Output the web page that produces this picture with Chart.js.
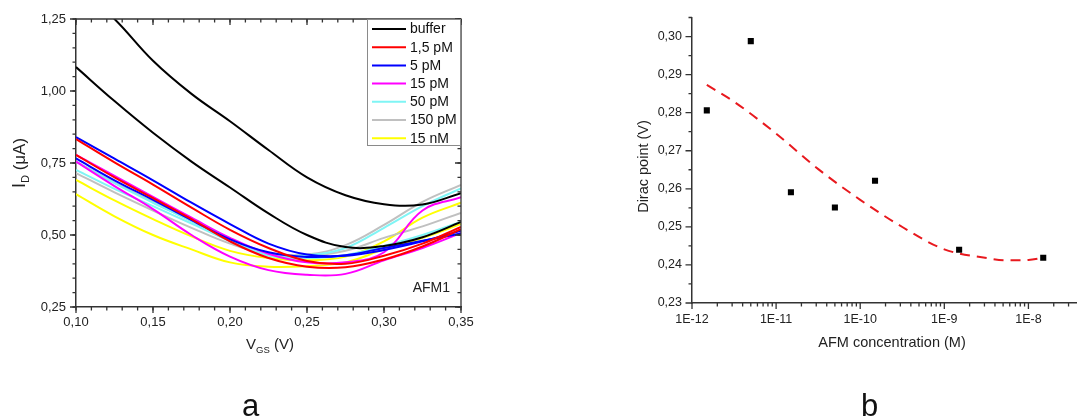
<!DOCTYPE html>
<html>
<head>
<meta charset="utf-8">
<script src="https://cdn.jsdelivr.net/npm/chart.js@4.4.1/dist/chart.umd.min.js"></script>
<style>
  html, body { margin: 0; padding: 0; background: #fff; overflow: hidden; }
  #wrap { position: relative; width: 1081px; height: 418px; }
  #chartA { position: absolute; left: 0; top: 0; }
  #chartB { position: absolute; left: 600px; top: 0; }
  .caption {
    position: absolute; top: 390px;
    font-family: "Liberation Sans Narrow", "Liberation Sans", Arial, sans-serif;
    font-size: 31px; line-height: 31px; color: #111;
  }
</style>
</head>
<body>
<div id="wrap">
  <canvas id="chartA" width="540" height="418"></canvas>
  <canvas id="chartB" width="481" height="418"></canvas>
  <div class="caption" style="left:242px">a</div>
  <div class="caption" style="left:861px">b</div>
</div>
<script>
// ============================
// DATA - panel a (transfer curves)
// ============================
const vgs = [0.10, 0.125, 0.15, 0.175, 0.20, 0.225, 0.25, 0.275, 0.30, 0.325, 0.35];

const buffer1 = [1.37, 1.25, 1.105, 0.99, 0.895, 0.795, 0.700, 0.638, 0.607, 0.606, 0.645];
const buffer2 = [1.083, 0.965, 0.855, 0.755, 0.665, 0.575, 0.500, 0.458, 0.462, 0.492, 0.545];
const pm1_5a = [0.833, 0.752, 0.675, 0.595, 0.518, 0.455, 0.410, 0.400, 0.428, 0.470, 0.528];
const pm1_5b = [0.778, 0.700, 0.628, 0.555, 0.478, 0.420, 0.390, 0.388, 0.415, 0.460, 0.520];
const pm5a = [0.840, 0.765, 0.690, 0.612, 0.538, 0.470, 0.432, 0.428, 0.448, 0.478, 0.515];
const pm5b = [0.766, 0.690, 0.622, 0.552, 0.485, 0.440, 0.424, 0.430, 0.455, 0.480, 0.505];
const pm15a = [0.778, 0.705, 0.632, 0.560, 0.490, 0.435, 0.405, 0.405, 0.440, 0.585, 0.631];
const pm15b = [0.755, 0.670, 0.590, 0.500, 0.425, 0.378, 0.362, 0.365, 0.412, 0.455, 0.507];
const pm50a = [0.726, 0.660, 0.600, 0.540, 0.480, 0.435, 0.430, 0.455, 0.525, 0.600, 0.662];
const pm50b = [0.755, 0.680, 0.612, 0.548, 0.478, 0.428, 0.420, 0.430, 0.462, 0.500, 0.546];
const pm150a = [0.755, 0.682, 0.615, 0.548, 0.482, 0.438, 0.432, 0.465, 0.535, 0.615, 0.674];
const pm150b = [0.715, 0.648, 0.585, 0.525, 0.470, 0.433, 0.428, 0.445, 0.490, 0.530, 0.577];
const nm15a = [0.691, 0.620, 0.555, 0.495, 0.445, 0.420, 0.412, 0.425, 0.478, 0.560, 0.612];
const nm15b = [0.642, 0.565, 0.500, 0.450, 0.405, 0.390, 0.392, 0.405, 0.450, 0.490, 0.538];

const legendLabels = ['buffer', '1,5 pM', '5 pM', '15 pM', '50 pM', '150 pM', '15 nM'];
const legendColors = ['#000000', '#ff0000', '#0000ff', '#ff00ff', '#7ff5f5', '#c0c0c0', '#ffff00'];
const seriesPairs = [
    [buffer1, buffer2], [pm1_5a, pm1_5b], [pm5a, pm5b], [pm15a, pm15b],
    [pm50a, pm50b], [pm150a, pm150b], [nm15a, nm15b]
];

const xTicksA = [0.10, 0.15, 0.20, 0.25, 0.30, 0.35];
const yTicksA = [0.25, 0.50, 0.75, 1.00, 1.25];

// ============================
// DATA - panel b (Dirac point)
// ============================
const concentrations = [1.5e-12, 5e-12, 1.5e-11, 5e-11, 1.5e-10, 1.5e-9, 1.5e-8];
const diracPoints = [0.2806, 0.2988, 0.2591, 0.2551, 0.2621, 0.2440, 0.2419];

const fitConc = [1.5e-12, 3.2e-12, 1e-11, 3.2e-11, 1e-10, 3.2e-10, 1e-9, 3.2e-9, 5.6e-9, 1e-8, 1.5e-8];
const fitVals = [0.2873, 0.2828, 0.2745, 0.2651, 0.2571, 0.2499, 0.2441, 0.2418, 0.2412, 0.2413, 0.2419];

const xTicksB = [1e-12, 1e-11, 1e-10, 1e-9, 1e-8];
const xTickLabelsB = ['1E-12', '1E-11', '1E-10', '1E-9', '1E-8'];
const yTicksB = [0.23, 0.24, 0.25, 0.26, 0.27, 0.28, 0.29, 0.30];


// ============================
// HELPERS
// ============================
const FONT = '"Liberation Sans", Arial, sans-serif';
const AXIS = '#333';

const comma = (v) => v.toFixed(2).replace('.', ',');

// dir: +1 / -1 along the perpendicular of the axis line
function tickMarks(ctx, scale, values, pos, len, dir) {
    ctx.beginPath();
    values.forEach((v) => {
        const p = scale.getPixelForValue(v);
        if (scale.isHorizontal()) {
            ctx.moveTo(p, pos);
            ctx.lineTo(p, pos + dir * len);
        } else {
            ctx.moveTo(pos, p);
            ctx.lineTo(pos + dir * len, p);
        }
    });
    ctx.stroke();
}

function steps(from, to, step) {
    const out = [];
    for (let v = from; v <= to + step / 10; v += step) out.push(+v.toFixed(4));
    return out;
}


// ============================
// PANEL A
// ============================
const datasetsA = [];
seriesPairs.forEach((pair, i) => {
    pair.forEach((arr, k) => {
        datasetsA.push({
            label: k === 0 ? legendLabels[i] : '',
            data: vgs.map((v, j) => ({ x: v, y: arr[j] })),
            borderColor: legendColors[i],
            borderWidth: 2,
            pointRadius: 0,
            fill: false,
            tension: 0.4
        });
    });
});

const panelADecor = {
    id: 'panelADecor',
    afterDatasetsDraw(chart) {
        const { ctx, chartArea: a, scales: { x, y } } = chart;
        ctx.save();
        ctx.strokeStyle = AXIS;
        ctx.lineWidth = 1.3;
        // frame top / right
        ctx.beginPath();
        ctx.moveTo(a.left, a.top);
        ctx.lineTo(a.right, a.top);
        ctx.lineTo(a.right, a.bottom);
        ctx.stroke();

        const xMinor = steps(0.10, 0.35, 0.01);
        const yMinor = steps(0.25, 1.25, 0.05);
        // bottom (outward) and top (inward)
        tickMarks(ctx, x, xTicksA, a.bottom, 6, 1);
        tickMarks(ctx, x, xMinor, a.bottom, 3.5, 1);
        tickMarks(ctx, x, xTicksA, a.top, 6, 1);
        tickMarks(ctx, x, xMinor, a.top, 3.5, 1);
        // left (outward) and right (inward)
        tickMarks(ctx, y, yTicksA, a.left, 6, -1);
        tickMarks(ctx, y, yMinor, a.left, 3.5, -1);
        tickMarks(ctx, y, yTicksA, a.right, 6, -1);
        tickMarks(ctx, y, yMinor, a.right, 3.5, -1);

        // legend
        const lx = 367, ly = a.top, lw = a.right - 367, lh = 127;
        ctx.fillStyle = '#fff';
        ctx.fillRect(lx, ly, lw, lh);
        ctx.strokeStyle = '#8a8a8a';
        ctx.lineWidth = 1;
        ctx.strokeRect(lx + 0.5, ly + 0.5, lw - 1, lh - 1);
        ctx.font = '14px ' + FONT;
        ctx.textBaseline = 'middle';
        legendLabels.forEach((lab, i) => {
            const cy = ly + 10 + i * 18.2;
            ctx.strokeStyle = legendColors[i];
            ctx.lineWidth = 2;
            ctx.beginPath();
            ctx.moveTo(372, cy);
            ctx.lineTo(406, cy);
            ctx.stroke();
            ctx.fillStyle = '#111';
            ctx.fillText(lab, 410, cy + 0.5);
        });

        // sample label
        ctx.fillStyle = '#222';
        ctx.textAlign = 'right';
        ctx.fillText('AFM1', 450, 288);

        // axis titles with subscripts
        ctx.textAlign = 'left';
        ctx.textBaseline = 'alphabetic';
        ctx.font = '15px ' + FONT;
        let px = 246;
        ctx.fillText('V', px, 349);
        px += ctx.measureText('V').width;
        ctx.font = '9.5px ' + FONT;
        ctx.fillText('GS', px, 353);
        px += ctx.measureText('GS').width;
        ctx.font = '15px ' + FONT;
        ctx.fillText(' (V)', px, 349);

        ctx.translate(25, 188);
        ctx.rotate(-Math.PI / 2);
        ctx.font = '18px ' + FONT;
        let py = 0;
        ctx.fillText('I', py, 0);
        py += ctx.measureText('I').width;
        ctx.font = '11px ' + FONT;
        ctx.fillText('D', py, 3.5);
        py += ctx.measureText('D').width;
        ctx.font = '17px ' + FONT;
        ctx.fillText(' (\u03bcA)', py, 0);
        ctx.restore();
    }
};

new Chart(document.getElementById('chartA'), {
    type: 'line',
    data: { datasets: datasetsA },
    options: {
        responsive: false,
        devicePixelRatio: 1,
        animation: false,
        layout: { padding: { left: 0, top: 19, right: 79, bottom: 0 } },
        plugins: { legend: { display: false }, tooltip: { enabled: false } },
        scales: {
            x: {
                type: 'linear',
                min: 0.10,
                max: 0.35,
                afterFit: (s) => { s.height = 111; },
                afterBuildTicks: (s) => { s.ticks = xTicksA.map((v) => ({ value: v })); },
                grid: { display: false, drawTicks: false },
                border: { display: true, color: AXIS, width: 1.5 },
                ticks: {
                    padding: 8,
                    color: '#222',
                    font: { family: FONT, size: 13 },
                    maxRotation: 0,
                    callback: (v) => comma(v)
                }
            },
            y: {
                min: 0.25,
                max: 1.25,
                afterFit: (s) => { s.width = 76; },
                afterBuildTicks: (s) => { s.ticks = yTicksA.map((v) => ({ value: v })); },
                grid: { display: false, drawTicks: false },
                border: { display: true, color: AXIS, width: 1.5 },
                ticks: {
                    padding: 10,
                    color: '#222',
                    font: { family: FONT, size: 13 },
                    callback: (v) => comma(v)
                }
            }
        }
    },
    plugins: [panelADecor]
});


// ============================
// PANEL B
// ============================
const panelBDecor = {
    id: 'panelBDecor',
    afterDraw(chart) {
        const { ctx, chartArea: a, scales: { x, y } } = chart;
        ctx.save();
        ctx.strokeStyle = AXIS;
        ctx.lineWidth = 1.3;

        const xMinor = [];
        xTicksB.forEach((d) => {
            for (let m = 2; m <= 9; m++) {
                if (d * m <= x.max) xMinor.push(d * m);
            }
        });
        const yMinor = steps(0.235, 0.305, 0.01);
        tickMarks(ctx, x, xTicksB, a.bottom, 6, 1);
        tickMarks(ctx, x, xMinor, a.bottom, 3.5, 1);
        tickMarks(ctx, y, yTicksB, a.left, 6.5, -1);
        tickMarks(ctx, y, yMinor, a.left, 3.5, -1);

        ctx.fillStyle = '#222';
        ctx.font = '14.5px ' + FONT;
        ctx.textAlign = 'center';
        ctx.textBaseline = 'alphabetic';
        ctx.fillText('AFM concentration (M)', 292, 346.5);

        ctx.translate(48, 166.5);
        ctx.rotate(-Math.PI / 2);
        ctx.fillText('Dirac point (V)', 0, 0);
        ctx.restore();
    }
};

new Chart(document.getElementById('chartB'), {
    type: 'scatter',
    data: {
        datasets: [
            {
                label: 'Dirac point',
                data: concentrations.map((c, i) => ({ x: c, y: diracPoints[i] })),
                pointStyle: 'rect',
                pointRadius: 4.3,
                backgroundColor: '#000',
                borderWidth: 0
            },
            {
                label: 'fit',
                data: fitConc.map((c, i) => ({ x: c, y: fitVals[i] })),
                showLine: true,
                borderColor: '#e8191e',
                borderWidth: 2,
                borderDash: [10, 7],
                pointRadius: 0,
                cubicInterpolationMode: 'monotone'
            }
        ]
    },
    options: {
        responsive: false,
        devicePixelRatio: 1,
        animation: false,
        layout: { padding: { left: 0, top: 12, right: 0, bottom: 0 } },
        plugins: { legend: { display: false }, tooltip: { enabled: false } },
        scales: {
            x: {
                type: 'logarithmic',
                min: 1e-12,
                max: 3.75e-8,
                afterFit: (s) => { s.height = 115; },
                afterBuildTicks: (s) => { s.ticks = xTicksB.map((v) => ({ value: v })); },
                grid: { display: false, drawTicks: false },
                border: { display: true, color: AXIS, width: 1.5 },
                ticks: {
                    padding: 9,
                    color: '#222',
                    font: { family: FONT, size: 12.5 },
                    maxRotation: 0,
                    autoSkip: false,
                    callback: (v) => {
                        const i = xTicksB.findIndex((t) => Math.abs(Math.log10(t) - Math.log10(v)) < 1e-6);
                        return i >= 0 ? xTickLabelsB[i] : '';
                    }
                }
            },
            y: {
                min: 0.23,
                max: 0.305,
                afterFit: (s) => { s.width = 92; },
                afterBuildTicks: (s) => { s.ticks = yTicksB.map((v) => ({ value: v })); },
                grid: { display: false, drawTicks: false },
                border: { display: true, color: AXIS, width: 1.5 },
                ticks: {
                    padding: 10,
                    color: '#222',
                    font: { family: FONT, size: 12.5 },
                    callback: (v) => comma(v)
                }
            }
        }
    },
    plugins: [panelBDecor]
});
</script>
</body>
</html>
